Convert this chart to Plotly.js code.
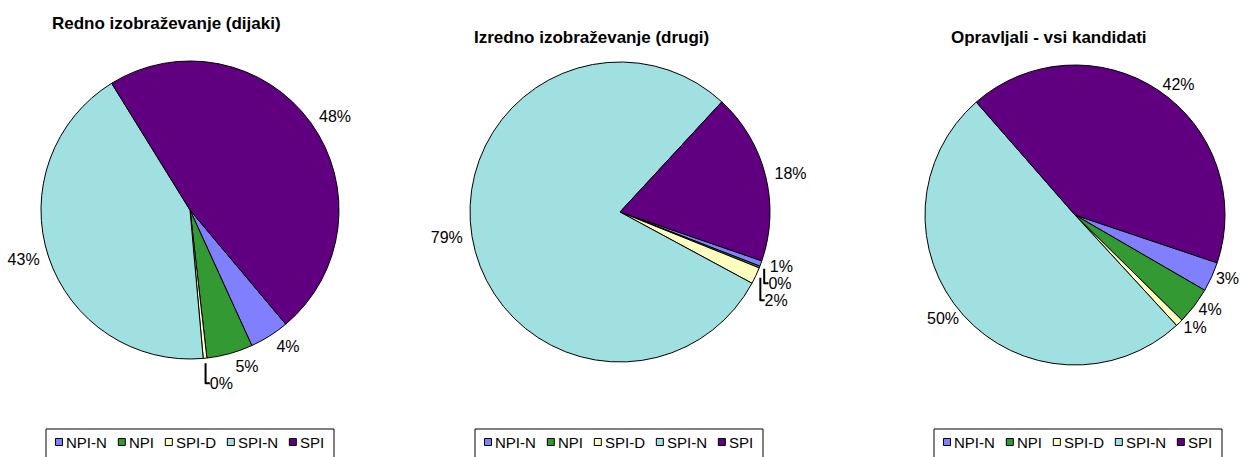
<!DOCTYPE html>
<html>
<head>
<meta charset="utf-8">
<script src="https://cdn.plot.ly/plotly-3.0.1.min.js"></script>
<style>html,body{margin:0;padding:0;background:#fff;}#chart{width:1240px;height:457px;}</style>
</head>
<body>
<div id="chart"></div>
<script>
const categories = ["NPI-N", "NPI", "SPI-D", "SPI-N", "SPI"];
const colors = ["#8080FF", "#339933", "#FFFFC0", "#A0E0E0", "#600080"];

const titles = ["Redno izobraževanje (dijaki)", "Izredno izobraževanje (drugi)", "Opravljali - vsi kandidati"];
const rednoValues = [4.3, 5.0, 0.4, 42.6, 47.7];
const izrednoValues = [0.6, 0.2, 1.8, 79.0, 18.4];
const vsiValues = [3.2, 4.0, 0.8, 50.4, 41.6];

const W = 1240, H = 457;
const pies = [
  {values: rednoValues, cx: 190, cy: 210, r: 149, rot: 140, tx: 166, ty: 24, lx: 190, gap: 5},
  {values: izrednoValues, cx: 620, cy: 212, r: 150, rot: 109, tx: 591, ty: 38, lx: 619, gap: 5},
  {values: vsiValues, cx: 1075, cy: 215, r: 150, rot: 108.6, tx: 1049, ty: 38, lx: 1078, gap: 0}
];
const font = "Liberation Sans, Arial, sans-serif";
const legendFontSize = 15;

function dom(p, r) {
  return {
    x: [(p.cx - r) / W, (p.cx + r) / W],
    y: [(H - (p.cy + r)) / H, (H - (p.cy - r)) / H]
  };
}
const data = [];
pies.forEach((p, i) => {
  data.push({
    type: "pie",
    labels: categories,
    values: p.values,
    sort: false,
    direction: "clockwise",
    rotation: p.rot,
    marker: {colors: colors, line: {color: "#000", width: 1}},
    textinfo: "none",
    hoverinfo: "label+percent",
    showlegend: false,
    domain: dom(p, p.r)
  });
  // percentage labels, placed just outside the pie
  data.push({
    type: "pie",
    labels: categories,
    values: p.values,
    sort: false,
    direction: "clockwise",
    rotation: p.rot,
    marker: {colors: categories.map(() => "rgba(0,0,0,0)"), line: {width: 0}},
    textposition: "outside",
    texttemplate: "%{percent:.0%}",
    outsidetextfont: {family: font, size: 16, color: "#000"},
    hoverinfo: "skip",
    showlegend: false,
    domain: dom(p, p.r + p.gap)
  });
});

// legends (one per pie), laid out from the category names and colours
const ctx = document.createElement("canvas").getContext("2d");
ctx.font = legendFontSize + "px 'Liberation Sans'";
const textW = categories.map(c => ctx.measureText(c).width);
const sq = 7, gapIn = 4, gapOut = 11, boxW = 288, boxTop = 429, boxBot = 470, midY = 442;
const contentW = textW.reduce((a, b) => a + b, 0) + categories.length * (sq + gapIn) + (categories.length - 1) * gapOut;

const shapes = [];
const annotations = pies.map((p, i) => ({
  text: "<b>" + titles[i] + "</b>",
  x: p.tx / W, y: (H - p.ty) / H, xref: "paper", yref: "paper",
  xanchor: "center", yanchor: "middle", showarrow: false,
  font: {family: font, size: 17, color: "#000"}
}));
const px = v => v / W, py = v => (H - v) / H;
pies.forEach(p => {
  shapes.push({type: "rect", xref: "paper", yref: "paper",
    x0: px(p.lx - boxW / 2), x1: px(p.lx + boxW / 2), y0: py(boxBot), y1: py(boxTop),
    line: {color: "#000", width: 1}, fillcolor: "#fff", layer: "below"});
  let x = p.lx - contentW / 2;
  categories.forEach((c, j) => {
    shapes.push({type: "rect", xref: "paper", yref: "paper",
      x0: px(x), x1: px(x + sq), y0: py(midY + sq / 2), y1: py(midY - sq / 2),
      line: {color: "#000", width: 1}, fillcolor: colors[j]});
    x += sq + gapIn;
    annotations.push({text: c, x: px(x), y: py(midY), xref: "paper", yref: "paper",
      xanchor: "left", yanchor: "middle", showarrow: false, borderpad: 0, borderwidth: 0,
      font: {family: font, size: legendFontSize, color: "#000"}});
    x += textW[j] + gapOut;
  });
});

const layout = {
  width: W, height: H,
  margin: {l: 0, r: 0, t: 0, b: 0, autoexpand: false},
  paper_bgcolor: "#fff",
  showlegend: false,
  shapes: shapes,
  annotations: annotations
};

Plotly.newPlot("chart", data, layout, {displayModeBar: false, staticPlot: true});
</script>
</body>
</html>
